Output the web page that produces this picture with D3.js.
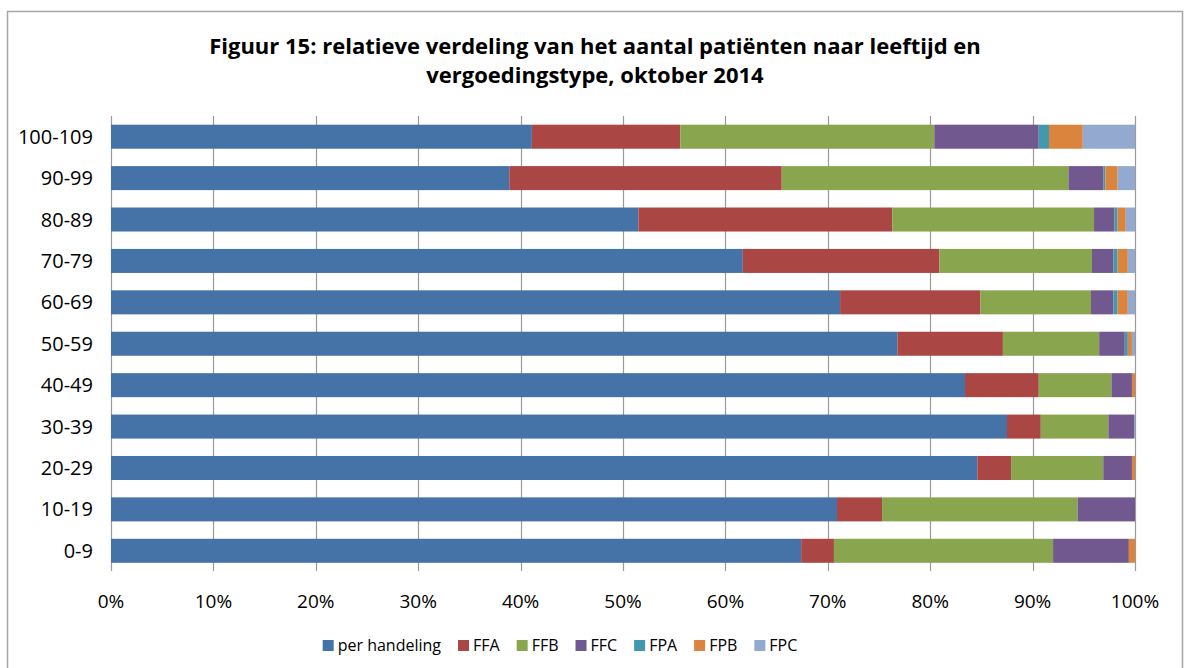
<!DOCTYPE html>
<html>
<head>
<meta charset="utf-8">
<script src="https://cdn.jsdelivr.net/npm/d3@7"></script>
<style>
  body { margin: 0; background: #fff; }
  text { font-family: "Open Sans", sans-serif; fill: #000; }
</style>
</head>
<body>
<svg id="chart" width="1185" height="668"></svg>
<script>
// DATA (percent of patients per age group) //
var ageGroups = ['100-109', '90-99', '80-89', '70-79', '60-69', '50-59', '40-49', '30-39', '20-29', '10-19', '0-9'];
var seriesNames = ['per handeling', 'FFA', 'FFB', 'FFC', 'FPA', 'FPB', 'FPC'];
var perHandeling = [41.1, 38.9, 51.5, 61.7, 71.2, 76.8, 83.4, 87.5, 84.6, 70.9, 67.4];
var ffa = [14.5, 26.6, 24.8, 19.2, 13.7, 10.3, 7.2, 3.3, 3.3, 4.4, 3.2];
var ffb = [24.8, 28.0, 19.7, 14.9, 10.8, 9.4, 7.1, 6.6, 9.0, 19.1, 21.4];
var ffc = [10.2, 3.4, 2.0, 2.1, 2.2, 2.5, 2.0, 2.5, 2.8, 5.6, 7.4];
var fpa = [1.0, 0.2, 0.3, 0.4, 0.4, 0.3, 0.0, 0.0, 0.0, 0.0, 0.0];
var fpb = [3.3, 1.2, 0.8, 1.0, 1.0, 0.4, 0.3, 0.0, 0.3, 0.0, 0.6];
var fpc = [5.1, 1.7, 0.9, 0.7, 0.7, 0.3, 0.0, 0.1, 0.0, 0.0, 0.0];
var xTicks = [0, 0.1, 0.2, 0.3, 0.4, 0.5, 0.6, 0.7, 0.8, 0.9, 1];
var colors = ['#4572A7', '#AA4643', '#89A54E', '#71588F', '#4198AF', '#DB843D', '#93A9CF'];

var allSeries = [perHandeling, ffa, ffb, ffc, fpa, fpb, fpc];

// build rows for stacking, normalised to 100%
var rows = ageGroups.map(function(g, i) {
    var row = { group: g };
    var total = 0;
    allSeries.forEach(function(s) { total += s[i]; });
    seriesNames.forEach(function(name, k) {
        row[name] = allSeries[k][i] / total;
    });
    return row;
});

var svg = d3.select('#chart');

// outer frame
svg.append('rect')
    .attr('x', 7.5).attr('y', 11.5)
    .attr('width', 1175).attr('height', 680)
    .attr('fill', 'none')
    .attr('stroke', '#a6a6a6')
    .attr('stroke-width', 1.5);

// title
var title = svg.append('text')
    .attr('text-anchor', 'middle')
    .style('font-weight', 'bold')
    .style('font-size', '22px');
title.append('tspan').attr('x', 595).attr('y', 54)
    .text('Figuur 15: relatieve verdeling van het aantal patiënten naar leeftijd en');
title.append('tspan').attr('x', 595).attr('y', 83)
    .text('vergoedingstype, oktober 2014');

var xScale = d3.scaleLinear().domain([0, 1]).range([111, 1135]);
var yScale = d3.scaleBand().domain(ageGroups).range([116, 571.5])
    .paddingInner(0.42).paddingOuter(0.21);

// gridlines
svg.append('g')
    .selectAll('line')
    .data(xTicks).enter()
    .append('line')
    .attr('x1', function(d) { return Math.round(xScale(d)) + 0.5; })
    .attr('x2', function(d) { return Math.round(xScale(d)) + 0.5; })
    .attr('y1', 116)
    .attr('y2', 571)
    .attr('stroke', '#9a9a9a')
    .attr('stroke-width', 1.2);

// stacked bars
var stack = d3.stack().keys(seriesNames);
var layers = stack(rows);

svg.append('g')
    .selectAll('g')
    .data(layers).enter()
    .append('g')
    .attr('fill', function(d, i) { return colors[i]; })
    .selectAll('rect')
    .data(function(d) { return d; }).enter()
    .append('rect')
    .attr('x', function(d) { return xScale(d[0]); })
    .attr('width', function(d) { return Math.max(0, xScale(d[1]) - xScale(d[0])); })
    .attr('y', function(d) { return yScale(d.data.group); })
    .attr('height', yScale.bandwidth());

// y axis labels
svg.append('g')
    .selectAll('text')
    .data(ageGroups).enter()
    .append('text')
    .attr('x', 93)
    .attr('y', function(d) { return yScale(d) + yScale.bandwidth() / 2; })
    .attr('dy', '0.35em')
    .attr('text-anchor', 'end')
    .style('font-size', '20px')
    .text(function(d) { return d; });

// x axis labels
svg.append('g')
    .selectAll('text')
    .data(xTicks).enter()
    .append('text')
    .attr('x', function(d) { return xScale(d); })
    .attr('y', 608)
    .attr('text-anchor', 'middle')
    .style('font-size', '19px')
    .text(d3.format('.0%'));

// legend
var legend = svg.append('g');
var lx = 0;
var items = legend.selectAll('g')
    .data(seriesNames).enter()
    .append('g');
items.each(function(name, i) {
    var g = d3.select(this);
    g.append('rect')
        .attr('x', lx).attr('y', 640)
        .attr('width', 11).attr('height', 11)
        .attr('fill', colors[i]);
    var t = g.append('text')
        .attr('x', lx + 15).attr('y', 651)
        .style('font-size', '16px')
        .text(name);
    lx += 15 + t.node().getComputedTextLength() + 17;
});
var legendWidth = lx - 17;
legend.attr('transform', 'translate(' + (560 - legendWidth / 2) + ',0)');
</script>
</body>
</html>
